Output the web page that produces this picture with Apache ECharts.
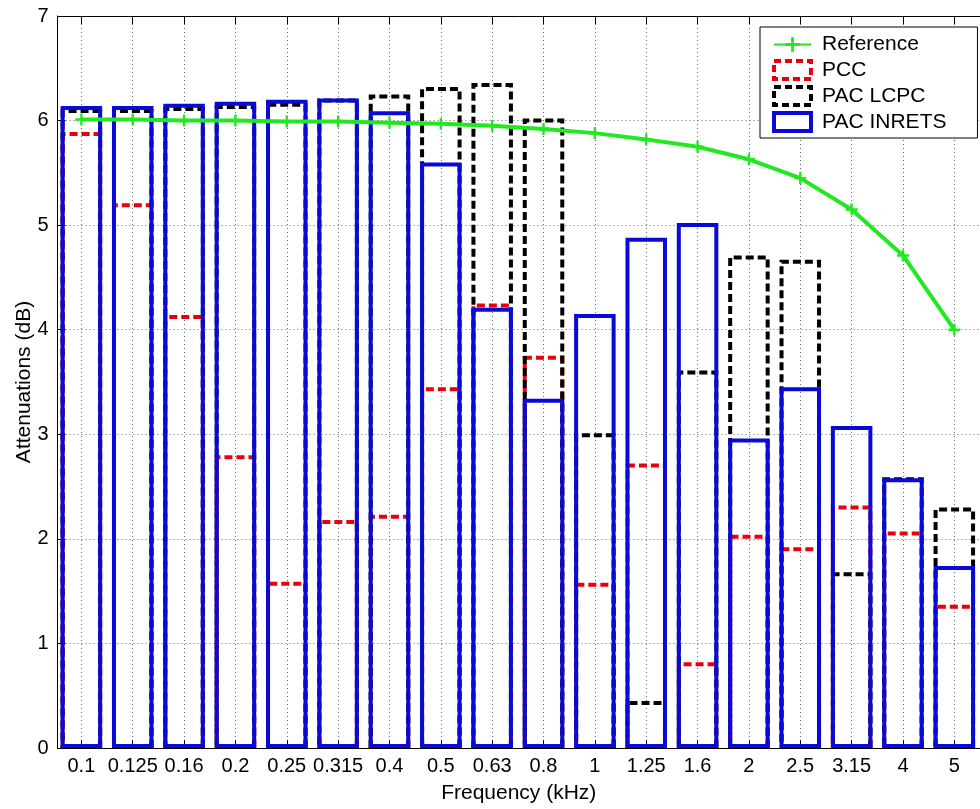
<!DOCTYPE html>
<html>
<head>
<meta charset="utf-8">
<script src="https://cdn.jsdelivr.net/npm/echarts@6/dist/echarts.min.js"></script>
<style>
html,body{margin:0;padding:0;background:#fff;}
#chart{width:980px;height:809px;}
</style>
</head>
<body>
<div id="chart"></div>
<script>
var categories = ['0.1','0.125','0.16','0.2','0.25','0.315','0.4','0.5','0.63','0.8','1','1.25','1.6','2','2.5','3.15','4','5'];
var reference = [6.01,6.01,6.00,6.00,5.99,5.99,5.98,5.97,5.95,5.92,5.88,5.82,5.75,5.63,5.45,5.15,4.71,4.00];
var pcc = [5.89,5.21,4.14,2.80,1.59,2.18,2.23,3.45,4.25,3.75,1.58,2.72,0.82,2.04,1.92,2.32,2.07,1.37];
var pacLcpc = [6.11,6.11,6.13,6.15,6.17,6.21,6.25,6.32,6.36,6.02,3.01,0.45,3.61,4.71,4.67,1.68,2.59,2.30];
var pacInrets = [6.14,6.14,6.16,6.18,6.20,6.21,6.09,5.60,4.21,3.34,4.15,4.88,5.02,2.96,3.45,3.08,2.58,1.74];
var yTicks = [0,1,2,3,4,5,6,7];

function pairs(arr){ return arr.map(function(v,i){ return [i+1, v]; }); }
var tickPos = categories.map(function(c,i){ return i+1; });

var font = 'Liberation Sans, Arial, Helvetica, sans-serif';
var gridDot = {show:true, lineStyle:{color:'#666', width:1, type:[1,3]}};

var RED = '#e8000b', BLACK = '#000', BLUE = '#0a0ad8', GREEN = '#22e822';
var dash = [8,4];
var bw = 4;

var chart = echarts.init(document.getElementById('chart'), null, {renderer:'canvas'});
var barW = 41.5;
var plusPath = 'path://M4,0H6V4H10V6H6V10H4V6H0V4H4Z';

chart.setOption({
  animation:false,
  backgroundColor:'#fff',
  grid:{left:57.5, top:16, width:932, height:733, containLabel:false},
  legend:{
    orient:'vertical',
    left:760, top:27,
    padding:[7,31,5,12],
    itemGap:4, itemWidth:37, itemHeight:18, itemTextGap:10,
    backgroundColor:'#fff', borderColor:'#000', borderWidth:1, borderRadius:0,
    textStyle:{fontFamily:font, fontSize:21, color:'#000', padding:[0,0,0,6]},
    data:[
      {name:'Reference'},
      {name:'PCC', icon:'rect', itemStyle:{color:'rgba(0,0,0,0)', borderColor:RED, borderWidth:bw, borderType:[7,4]}},
      {name:'PAC LCPC', icon:'rect', itemStyle:{color:'rgba(0,0,0,0)', borderColor:BLACK, borderWidth:bw, borderType:[7,4]}},
      {name:'PAC INRETS', icon:'rect', itemStyle:{color:'rgba(0,0,0,0)', borderColor:BLUE, borderWidth:bw, borderType:'solid'}}
    ]
  },
  xAxis:[{
    type:'value', min:0.535, max:18.5,
    position:'bottom',
    name:'Frequency (kHz)', nameLocation:'middle', nameGap:35, nameMoveOverlap:false,
    nameTextStyle:{fontFamily:font, fontSize:21, color:'#000'},
    axisLine:{show:true, onZero:false, lineStyle:{color:'#000', width:1}},
    axisTick:{show:true, inside:true, length:8, customValues:tickPos, lineStyle:{color:'#000'}},
    axisLabel:{show:true, customValues:tickPos, margin:8, fontFamily:font, fontSize:20, color:'#000',
      formatter:function(v){ var i = Math.round(v)-1; return categories[i] || ''; }},
    splitLine:gridDot
  },{
    type:'value', min:0.535, max:18.5,
    position:'top',
    axisLine:{show:true, onZero:false, lineStyle:{color:'#000', width:1}},
    axisTick:{show:true, inside:true, length:8, customValues:tickPos, lineStyle:{color:'#000'}},
    axisLabel:{show:false},
    splitLine:{show:false}
  }],
  yAxis:{
    type:'value', min:0, max:7, interval:1,
    name:'Attenuations (dB)', nameLocation:'middle', nameGap:23, nameRotate:90, nameMoveOverlap:false,
    nameTextStyle:{fontFamily:font, fontSize:21, color:'#000'},
    axisLine:{show:true, lineStyle:{color:'#000', width:1}},
    axisTick:{show:true, inside:true, length:8, lineStyle:{color:'#000'}},
    axisLabel:{margin:9, fontFamily:font, fontSize:20, color:'#000',
      formatter:function(v){ return yTicks.indexOf(v) >= 0 ? String(v) : ''; }},
    splitLine:gridDot
  },
  series:[
    {
      name:'PCC', type:'bar', data:pairs(pcc), barWidth:barW, barGap:'-100%',
      itemStyle:{color:'rgba(0,0,0,0)', borderColor:RED, borderWidth:bw, borderType:dash}
    },
    {
      name:'PAC LCPC', type:'bar', data:pairs(pacLcpc), barWidth:barW, barGap:'-100%',
      itemStyle:{color:'rgba(0,0,0,0)', borderColor:BLACK, borderWidth:bw, borderType:dash}
    },
    {
      name:'PAC INRETS', type:'bar', data:pairs(pacInrets), barWidth:barW, barGap:'-100%',
      itemStyle:{color:'rgba(0,0,0,0)', borderColor:BLUE, borderWidth:bw}
    },
    {
      name:'Reference', type:'line', data:pairs(reference), z:5,
      symbol:plusPath, symbolSize:12, showSymbol:true,
      lineStyle:{color:GREEN, width:4},
      itemStyle:{color:GREEN, borderWidth:0}
    }
  ]
});
</script>
</body>
</html>
